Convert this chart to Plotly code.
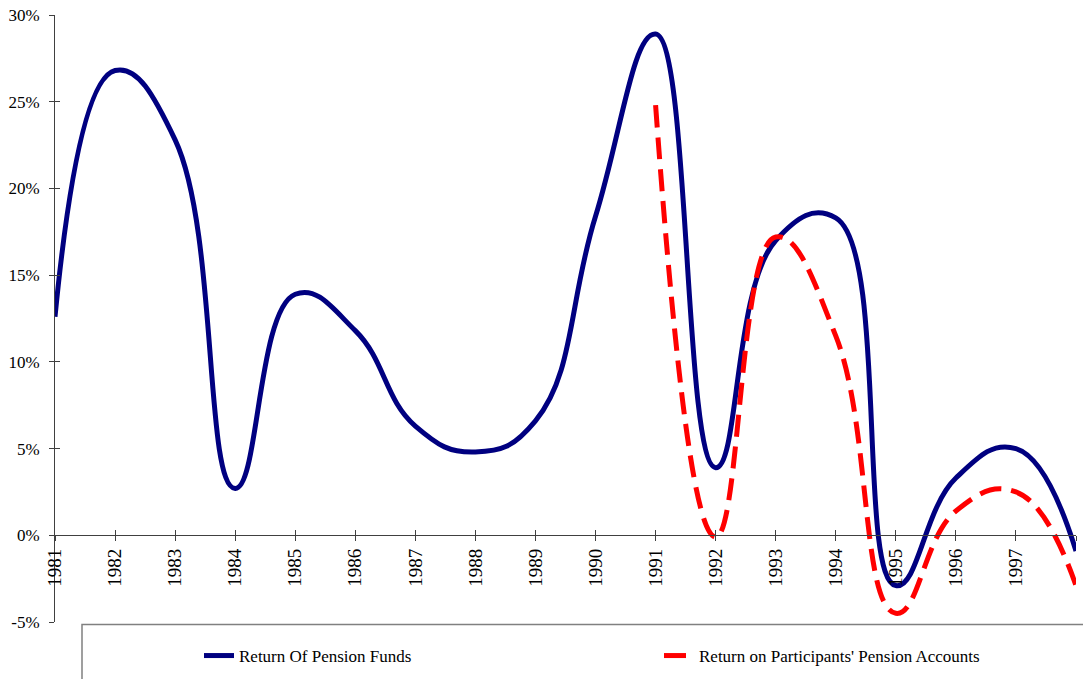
import plotly.graph_objects as go

years = list(range(1981, 1999))
pension_funds = [12.6, 26.8, 22.8, 2.7, 13.9, 11.8, 6.3, 4.8, 6.6, 18.4,
                 28.9, 3.9, 17.0, 18.3, -2.9, 3.3, 5.0, -0.9]
participants = [None] * 10 + [24.8, -0.1, 17.2, 11.5, -4.5, 1.4, 2.5, -2.9]

y_ticks = [-5, 0, 5, 10, 15, 20, 25, 30]
y_labels = [f"{v}%" for v in y_ticks]
y_min, y_max = -5, 30

font_family = ("Times New Roman, Times, Liberation Serif, Tinos, Noto Serif, "
               "DejaVu Serif, FreeSerif, serif")
axis_color = "#404040"
smooth = 1.3

fig = go.Figure()
fig.add_trace(go.Scatter(
    x=years, y=pension_funds, mode="lines",
    name="Return Of Pension Funds", legend="legend",
    line=dict(color="#000080", width=5, shape="spline", smoothing=smooth),
))
fig.add_trace(go.Scatter(
    x=years, y=participants, mode="lines",
    name="Return on Participants' Pension Accounts", legend="legend2",
    line=dict(color="#FF0000", width=5, shape="spline", smoothing=smooth,
              dash="22px,10px"),
))
# empty trace on the overlay axes so the crossing tick marks render
fig.add_trace(go.Scatter(x=[None], y=[None], xaxis="x2", yaxis="y2",
                         showlegend=False, hoverinfo="skip"))

zero_pos = (0 - y_min) / (y_max - y_min)
legend_style = dict(
    orientation="h", xanchor="left", yanchor="middle",
    xref="container", yref="container",
    bgcolor="rgba(0,0,0,0)", borderwidth=0,
    font=dict(size=17, family=font_family, color="black"),
)

fig.update_layout(
    width=1083, height=679,
    margin=dict(l=55, r=7, t=15, b=57, autoexpand=False),
    paper_bgcolor="white", plot_bgcolor="white",
    font=dict(family=font_family, color="black", size=17),
    xaxis=dict(
        range=[1981, 1998], tickvals=years, ticktext=[str(y) for y in years],
        anchor="free", position=zero_pos,
        showline=True, linecolor=axis_color, linewidth=1,
        ticks="outside", ticklen=5, tickcolor=axis_color, tickwidth=1,
        tickangle=-90, tickfont=dict(size=19, family=font_family),
        showgrid=False, zeroline=False,
    ),
    xaxis2=dict(
        matches="x", overlaying="x", anchor="free", position=zero_pos,
        showline=False, ticks="inside", ticklen=5, tickcolor=axis_color,
        tickwidth=1, tickvals=years, showticklabels=False, showgrid=False,
        zeroline=False,
    ),
    yaxis=dict(
        range=[y_min, y_max], tickvals=y_ticks, ticktext=y_labels,
        showline=True, linecolor=axis_color, linewidth=1,
        ticks="outside", ticklen=5, tickcolor=axis_color, tickwidth=1,
        tickfont=dict(size=17, family=font_family),
        showgrid=False, zeroline=False, ticklabelstandoff=6,
    ),
    yaxis2=dict(
        matches="y", overlaying="y", anchor="x",
        ticks="inside", ticklen=5, tickcolor=axis_color, tickwidth=1,
        tickvals=y_ticks, showticklabels=False, showgrid=False,
        zeroline=False, showline=False,
    ),
    showlegend=True,
    legend=dict(legend_style, x=199 / 1083, y=(679 - 656) / 679),
    legend2=dict(legend_style, x=659 / 1083, y=(679 - 656) / 679),
    shapes=[dict(
        type="rect", xref="paper", yref="paper",
        x0=(82 - 55) / 1021, x1=1.05, y0=-0.3, y1=-0.004,
        line=dict(color="#808080", width=1.5), fillcolor="rgba(0,0,0,0)",
        layer="below",
    )],
)

fig.write_html("out.html")
